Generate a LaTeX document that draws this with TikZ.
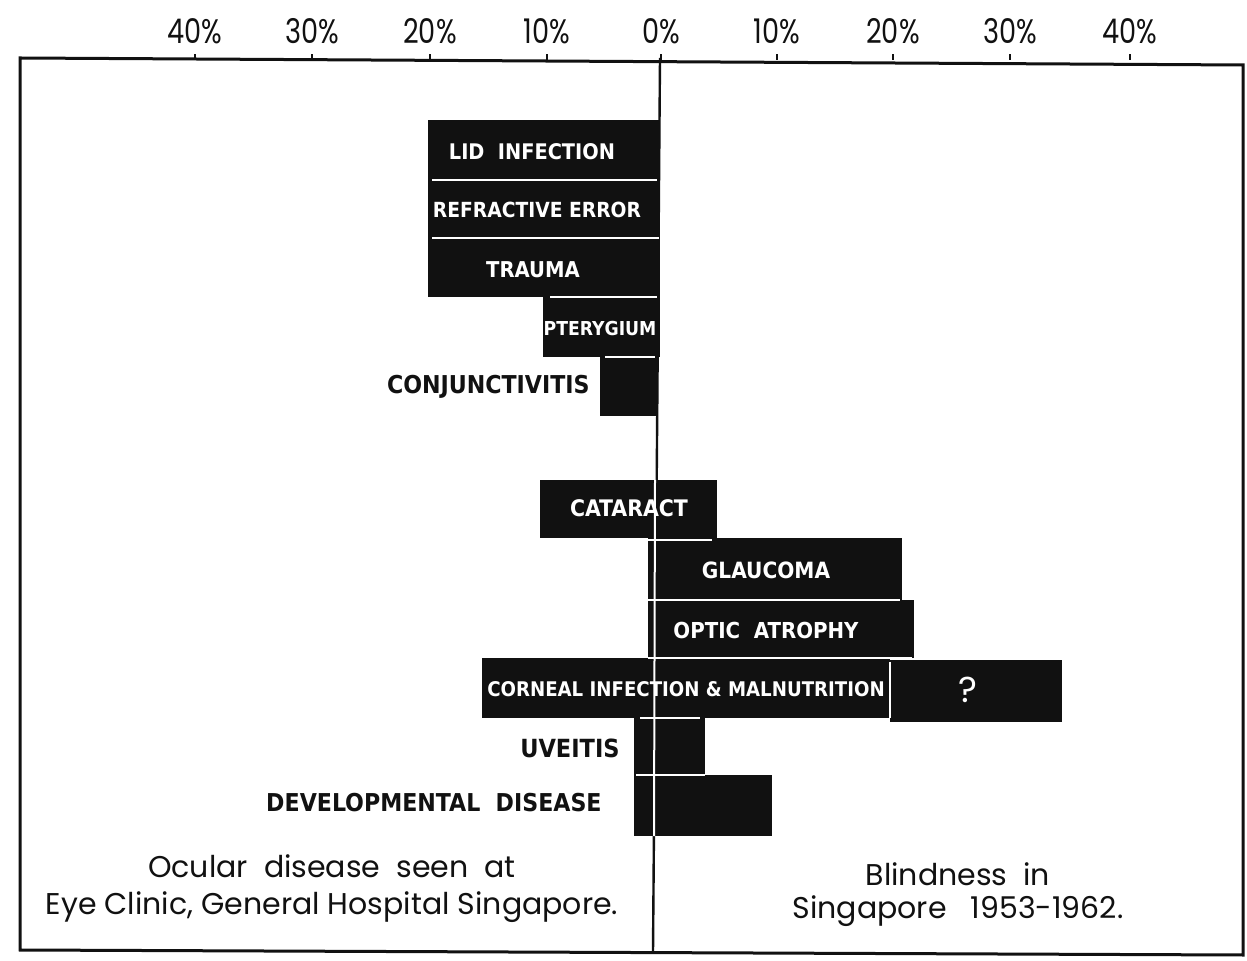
\documentclass[tikz,border=0pt]{standalone}
\usepackage{fontspec}
\setmainfont{Poppins}
\newfontfamily\barfont{DejaVu Sans Condensed}
\definecolor{ink}{HTML}{111111}
\newcommand{\bsz}[1]{\fontsize{#1}{#1}\selectfont}
\begin{document}
\begin{tikzpicture}[x=0.5pt,y=-0.5pt,
  bar/.style={fill=ink},
  sep/.style={draw=white,line width=1pt},
  frame/.style={draw=ink,line width=1.5pt},
  pct/.style={font=\fontsize{17}{20}\selectfont,text=ink,inner sep=0pt},
  blab/.style={font=\barfont\bfseries,text=white,inner sep=0pt},
  olab/.style={font=\barfont\bfseries,text=ink,inner sep=0pt},
  captext/.style={text=ink,inner sep=0pt,align=center}]
\useasboundingbox (0,0) rectangle (1247,961);
\fill[white] (0,0) rectangle (1247,961);
% frame
\draw[frame] (20,58) -- (1243,65) -- (1243,955) -- (20,950) -- cycle;
% axis
\coordinate (axtop) at (660,58);
\coordinate (axbot) at (653,952);
\draw[draw=ink,line width=1.2pt] (axtop) -- (axbot);
% ticks and labels
\foreach \x/\t [count=\i] in {195/40,312/30,430/20,547/10,661/0,777/10,893/20,1010/30,1130/40}{
  \draw[ink,line width=1.2pt] (\x,60) -- (\x,54);
  \node[pct] (p\i) at (\x,31) {\scalebox{0.8}[1]{\t\%}};
}
% upper group bars
\fill[bar] (428,120) rectangle (660,297);
\fill[bar] (543,297) rectangle (660,357);
\fill[bar] (600,357) rectangle (658,416);
\draw[sep] (432,180) -- (657,180);
\draw[sep] (432,238) -- (659,238);
\draw[sep] (550,297) -- (657,297);
\draw[sep] (605,357) -- (655,357);
\node[blab] (lid) at (532,152) {\bsz{10.75}LID\ \ INFECTION};
\node[blab] (ref) at (537,210) {\bsz{10.4}REFRACTIVE ERROR};
\node[blab] (tra) at (533,270) {\bsz{10.9}TRAUMA};
\node[blab] (pte) at (600,329) {\bsz{9.6}PTERYGIUM};
\node[olab,anchor=east] (con) at (590,387) {\bsz{12.3}CONJUNCTIVITIS};
% lower group bars
\fill[bar] (540,480) rectangle (717,538);
\fill[bar] (648,538) rectangle (902,600);
\fill[bar] (648,600) rectangle (914,658);
\fill[bar] (482,658) rectangle (890,718);
\fill[bar] (890,660) rectangle (1062,722);
\fill[bar] (634,718) rectangle (705,775);
\fill[bar] (634,775) rectangle (772,836);
\draw[sep] (655,480) -- (654,836);
\draw[sep] (648,540) -- (712,540);
\draw[sep] (648,600) -- (900,600);
\draw[sep] (648,658) -- (912,658);
\draw[sep] (890,662) -- (890,718);
\draw[sep] (640,718) -- (700,718);
\draw[sep] (636,775) -- (705,775);
\node[blab] (cat) at (629,508) {\bsz{11.4}CATARACT};
\node[blab] (gla) at (766,570) {\bsz{11.2}GLAUCOMA};
\node[blab] (opt) at (766,630) {\bsz{11}OPTIC\ \ ATROPHY};
\node[blab] (cor) at (686,689) {\bsz{10.1}CORNEAL INFECTION \& MALNUTRITION};
\node[text=white,inner sep=0pt,font=\fontsize{18}{18}\selectfont] (q) at (968,690) {?};
\node[olab,anchor=east] (uve) at (620,748) {\bsz{12.5}UVEITIS};
\node[olab,anchor=east] (dev) at (602,803) {\bsz{12.3}DEVELOPMENTAL\ \ DISEASE};
% captions
\node[captext,font=\fontsize{15}{18.5}\selectfont] (ocu) at (332,889) {Ocular\ \ disease\ \ seen\ \ at\\Eye\ Clinic,\ General\ Hospital\ Singapore.};
\node[captext,font=\fontsize{15}{16.5}\selectfont] (bli) at (958,895) {Blindness\ \ in\\Singapore\ \ \ 1953-1962.};
\end{tikzpicture}
\end{document}
